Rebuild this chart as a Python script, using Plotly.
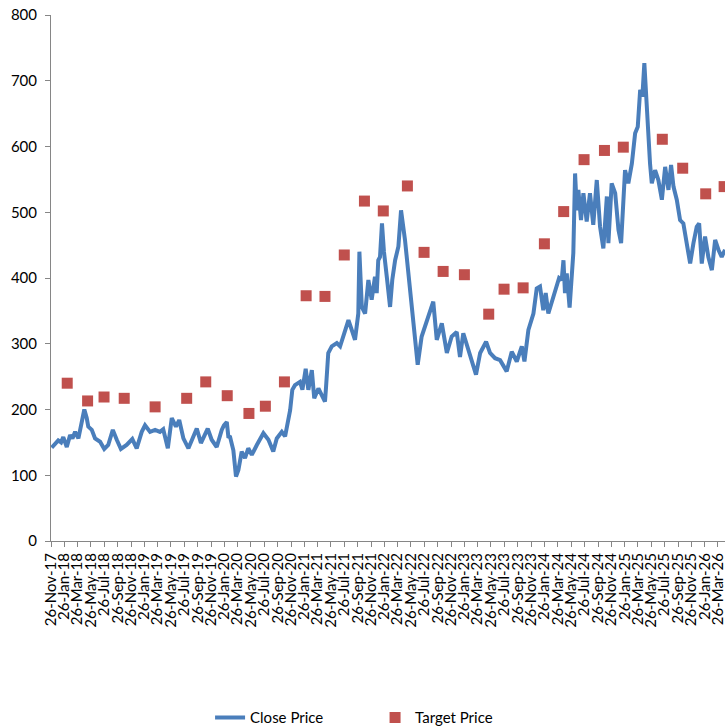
import pandas as pd
import plotly.graph_objects as go

BASE_DATE = "2017-11-26"

# Close price: days since BASE_DATE and price
close_day = [3, 18, 33, 46, 56, 72, 87, 98, 110, 125, 140, 152, 163, 170, 186, 201, 224, 243, 261, 282,
             300, 319, 345, 371, 391, 414, 429, 452, 475, 497, 512, 533, 551, 570, 585, 604, 627, 649, 665, 684,
             715, 733, 756, 779, 789, 802, 809, 817, 832, 844, 855, 870, 885, 900, 916, 939, 969, 992, 1014, 1030,
             1053, 1068, 1083, 1091, 1101, 1113, 1136, 1147, 1162, 1174, 1190, 1201, 1220, 1238, 1250, 1255, 1265, 1281, 1304, 1319,
             1334, 1357, 1372, 1387, 1402, 1407, 1418, 1433, 1448, 1463, 1478, 1486, 1493, 1501, 1510, 1519, 1532, 1547, 1557, 1570,
             1585, 1597, 1615, 1630, 1646, 1661, 1673, 1691, 1707, 1722, 1744, 1760, 1783, 1806, 1828, 1851, 1866, 1881, 1904, 1920,
             1939, 1958, 1985, 2003, 2026, 2049, 2064, 2079, 2102, 2125, 2148, 2160, 2178, 2201, 2216, 2231, 2246, 2257, 2269, 2286,
             2304, 2318, 2330, 2338, 2345, 2353, 2366, 2376, 2383, 2391, 2399, 2406, 2418, 2429, 2444, 2459, 2474, 2490, 2505, 2520,
             2536, 2543, 2558, 2574, 2589, 2601, 2612, 2619, 2634, 2650, 2665, 2677, 2688, 2698, 2707, 2715, 2723, 2733, 2741, 2756,
             2771, 2787, 2802, 2817, 2829, 2840, 2855, 2870, 2885, 2901, 2916, 2931, 2946, 2957, 2969, 2984, 2999, 3015, 3030, 3045,
             3060, 3075]
close_price = [142, 147, 153, 150, 158, 143, 161, 156, 166, 156, 179, 200, 187, 174, 169, 156, 151, 140, 146, 169,
               154, 140, 146, 155, 141, 166, 176, 166, 169, 166, 170, 141, 187, 174, 184, 156, 141, 159, 171, 149,
               171, 154, 143, 169, 176, 181, 159, 158, 138, 98, 108, 136, 126, 141, 131, 146, 164, 154, 136, 156,
               166, 159, 184, 199, 230, 237, 242, 230, 262, 230, 260, 217, 232, 220, 212, 235, 286, 296, 301, 296,
               313, 336, 321, 306, 346, 440, 356, 346, 397, 367, 402, 377, 427, 432, 483, 440, 402, 356, 397, 427,
               448, 503, 458, 407, 356, 296, 268, 311, 326, 341, 364, 306, 331, 286, 311, 318, 280, 316, 291, 275,
               253, 286, 303, 286, 278, 275, 265, 258, 288, 273, 296, 273, 321, 346, 384, 387, 351, 377, 346, 365,
               380, 400, 397, 427, 377, 407, 355, 417, 438, 559, 503, 534, 488, 529, 486, 529, 481, 549, 478, 445,
               524, 453, 544, 529, 473, 453, 514, 564, 544, 574, 620, 630, 686, 676, 727, 681, 610, 574, 544, 564,
               549, 519, 569, 534, 572, 539, 519, 488, 483, 448, 422, 453, 478, 483, 422, 463, 432, 412, 458, 443,
               432, 443]

# Target price: days since BASE_DATE and price
target_day = [74, 167, 242, 334, 475, 619, 706, 804, 903, 978, 1065, 1164, 1250, 1338, 1430, 1516,
              1626, 1702, 1789, 1886, 1997, 2067, 2154, 2251, 2339, 2432, 2525, 2611, 2789, 2882, 2987, 3071]
target_price = [240, 213, 219, 217, 204, 217, 242, 221, 194, 205, 242, 373, 372, 435, 517, 502,
                540, 439, 410, 405, 345, 383, 385, 452, 501, 580, 594, 599, 611, 567, 528, 539]

X_END_DAY = 3075
Y_TICKS = [0, 100, 200, 300, 400, 500, 600, 700, 800]

base = pd.Timestamp(BASE_DATE)
close_dates = [base + pd.Timedelta(days=d) for d in close_day]
target_dates = [base + pd.Timedelta(days=d) for d in target_day]

FONT = "Lato"

fig = go.Figure()
fig.add_trace(go.Scatter(
    x=close_dates, y=close_price, mode="lines", name="Close Price",
    line=dict(color="#4A7EBB", width=4),
))
fig.add_trace(go.Scatter(
    x=target_dates, y=target_price, mode="markers", name="Target Price",
    marker=dict(symbol="square", size=11, color="#C0504D"),
    cliponaxis=False,
))

fig.update_layout(
    width=725, height=728,
    margin=dict(l=51, r=0, t=15, b=187, autoexpand=False),
    paper_bgcolor="white", plot_bgcolor="white",
    font=dict(family=FONT, size=15, color="#000000"),
    showlegend=True,
    legend=dict(orientation="h", x=0.236, xanchor="left",
                y=-0.336, yanchor="middle", font=dict(size=15),
                entrywidth=120, traceorder="normal"),
    xaxis=dict(
        type="date",
        range=[base, base + pd.Timedelta(days=X_END_DAY)],
        tick0=BASE_DATE, dtick="M2", tickformat="%d-%b-%y",
        tickangle=-90, ticks="outside", ticklen=5, tickcolor="#868686",
        showline=True, linecolor="#868686", linewidth=1,
        showgrid=False, zeroline=False, automargin=False,
        tickfont=dict(size=15), ticklabeloverflow="allow",
    ),
    yaxis=dict(
        range=[0, 800], tickvals=Y_TICKS,
        ticks="outside", ticklen=5, tickcolor="#868686",
        showline=True, linecolor="#868686", linewidth=1,
        showgrid=False, zeroline=False, automargin=False,
        tickfont=dict(size=15), ticklabelstandoff=5,
    ),
)

fig.write_html("out.html")
